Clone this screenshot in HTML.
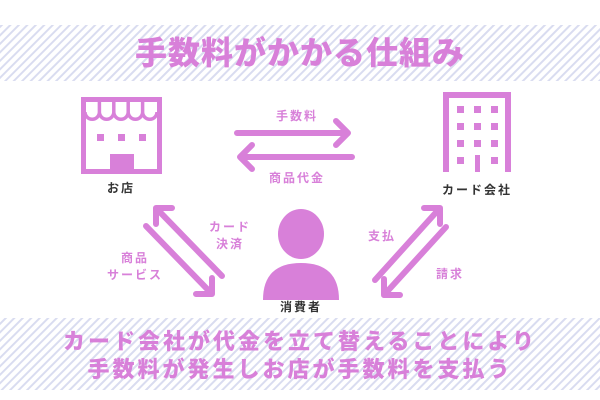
<!DOCTYPE html>
<html><head><meta charset="utf-8"><style>
html,body{margin:0;padding:0;width:600px;height:400px;overflow:hidden;background:#fff}
body{font-family:"Liberation Sans","Noto Sans CJK JP",sans-serif}
</style></head><body>
<svg width="600" height="400" viewBox="0 0 600 400" xmlns="http://www.w3.org/2000/svg" style="font-family:'Liberation Sans','Noto Sans CJK JP',sans-serif;font-weight:bold">
<defs>
<pattern id="st" patternUnits="userSpaceOnUse" width="6" height="6" patternTransform="rotate(45)">
<rect width="6" height="6" fill="#fff"/><rect width="2" height="6" fill="#d9dcf0"/>
</pattern>
</defs>
<rect x="0" y="25" width="600" height="56" fill="url(#st)"/>
<rect x="0" y="318" width="600" height="72" fill="url(#st)"/>
<text x="300" y="64" text-anchor="middle" font-size="32" fill="#d880d9" font-weight="900" letter-spacing="1">手数料がかかる仕組み</text>

<!-- shop -->
<g fill="#d880d9">
<rect x="81" y="97" width="81" height="77"/>
<rect x="86" y="102" width="71" height="67" fill="#fff"/>
<g stroke="#d880d9" stroke-width="3.5" fill="none">
<path d="M85 112 a7 7 0 0 0 14.4 0 a7 7 0 0 0 14.4 0 a7 7 0 0 0 14.4 0 a7 7 0 0 0 14.4 0 a7 7 0 0 0 14.4 0"/>
<path d="M99.4 100 V112 M113.8 100 V112 M128.2 100 V112 M142.6 100 V112"/>
</g>
<rect x="97" y="134" width="7" height="7"/><rect x="118" y="134" width="7" height="7"/><rect x="139" y="134" width="7" height="7"/>
<rect x="110" y="154" width="24" height="20"/>
</g>
<text x="121" y="192" text-anchor="middle" font-size="12" fill="#333" letter-spacing="2">お店</text>

<!-- building -->
<g fill="#d880d9">
<rect x="443" y="92" width="68" height="80"/>
<rect x="449" y="98" width="56" height="74" fill="#fff"/>
<rect x="457" y="106" width="7" height="7"/><rect x="474" y="106" width="7" height="7"/><rect x="491" y="106" width="7" height="7"/>
<rect x="457" y="123" width="7" height="7"/><rect x="474" y="123" width="7" height="7"/><rect x="491" y="123" width="7" height="7"/>
<rect x="457" y="140" width="7" height="7"/><rect x="474" y="140" width="7" height="7"/><rect x="491" y="140" width="7" height="7"/>
<rect x="457" y="157" width="7" height="7"/><rect x="491" y="157" width="7" height="7"/>
<rect x="475" y="155" width="5" height="17"/>
</g>
<text x="477" y="194" text-anchor="middle" font-size="12" fill="#333" letter-spacing="2">カード会社</text>

<!-- arrows -->
<g stroke="#d880d9" stroke-width="6" stroke-linecap="round" stroke-linejoin="round" fill="none">
<path d="M237 133 H348 M336 121 L348 133 L336 145"/>
<path d="M352 157 H240 M252 145 L240 157 L252 169"/>
<path d="M222 276 L156 208 M156 224 L156 208 L172 208"/>
<path d="M146 226 L212 294 M212 278 L212 294 L196 294"/>
<path d="M375 280 L440 208 M424 208 L440 208 L440 224"/>
<path d="M446 227 L384 295 M384 279 L384 295 L400 295"/>
</g>
<g fill="#d880d9" font-size="12" text-anchor="middle" letter-spacing="2">
<text x="297" y="120">手数料</text>
<text x="297" y="182">商品代金</text>
<text x="230" y="231">カード</text>
<text x="230" y="248">決済</text>
<text x="135" y="262">商品</text>
<text x="135" y="279">サービス</text>
<text x="382" y="240">支払</text>
<text x="450" y="278">請求</text>
</g>

<!-- person -->
<g fill="#d880d9">
<ellipse cx="301" cy="234" rx="23" ry="25"/>
<path d="M263 300 Q263 263 301 263 Q339 263 339 300 Z"/>
</g>
<text x="301" y="311" text-anchor="middle" font-size="12" fill="#333" letter-spacing="2">消費者</text>

<g fill="#d880d9" font-size="22" text-anchor="middle" letter-spacing="3" font-weight="900">
<text x="300" y="349">カード会社が代金を立て替えることにより</text>
<text x="300" y="377">手数料が発生しお店が手数料を支払う</text>
</g>
</svg>
</body></html>
